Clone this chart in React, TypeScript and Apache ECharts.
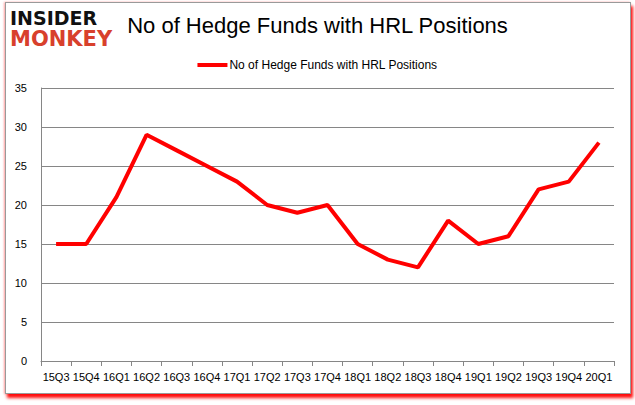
import { useEffect, useRef } from 'react';
import * as echarts from 'echarts';

const quarters = [
  '15Q3', '15Q4', '16Q1', '16Q2', '16Q3', '16Q4', '17Q1', '17Q2', '17Q3', '17Q4',
  '18Q1', '18Q2', '18Q3', '18Q4', '19Q1', '19Q2', '19Q3', '19Q4', '20Q1',
];
const hedgeFunds = [15, 15, 21, 29, 27, 25, 23, 20, 19, 20, 15, 13, 12, 18, 15, 16, 22, 23, 28];
const seriesName = 'No of Hedge Funds with HRL Positions';
const chartTitle = 'No of Hedge Funds with HRL Positions';

export default function App() {
  const chartRef = useRef<HTMLDivElement>(null);

  useEffect(() => {
    if (!chartRef.current) return;
    const chart = echarts.init(chartRef.current, null, { renderer: 'svg' });

    chart.setOption({
      animation: false,
      backgroundColor: 'transparent',
      title: {
        text: chartTitle,
        left: 'center',
        top: 9,
        textStyle: {
          fontFamily: 'Liberation Sans',
          fontSize: 22,
          fontWeight: 'normal',
          color: '#000',
        },
      },
      legend: {
        top: 54,
        left: 'center',
        icon: 'rect',
        itemWidth: 30,
        itemHeight: 4,
        itemGap: 2,
        textStyle: { fontFamily: 'Liberation Sans', fontSize: 12, color: '#000', padding: [0, 0, 0, -3] },
        data: [seriesName],
      },
      graphic: [
        {
          type: 'text',
          left: 10,
          top: 8,
          style: {
            text: 'INSIDER',
            font: 'bold 19px "DejaVu Sans"',
            fill: '#111',
          },
        },
        {
          type: 'text',
          left: 10,
          top: 28,
          style: {
            text: 'MONKEY',
            font: 'bold 21px "DejaVu Sans"',
            fill: '#d8402c',
          },
        },
      ],
      grid: { left: 41, right: 21, top: 88, bottom: 44 },
      xAxis: {
        type: 'category',
        data: quarters,
        boundaryGap: true,
        axisLine: { lineStyle: { color: '#868686', width: 1 } },
        axisTick: { show: true, length: 5, lineStyle: { color: '#868686' } },
        axisLabel: {
          interval: 0,
          margin: 10,
          fontFamily: 'Liberation Sans',
          fontSize: 11,
          color: '#000',
        },
      },
      yAxis: {
        type: 'value',
        min: 0,
        max: 35,
        interval: 5,
        axisLine: { show: true, lineStyle: { color: '#868686', width: 1 } },
        axisTick: { show: false },
        axisLabel: {
          margin: 14,
          fontFamily: 'Liberation Sans',
          fontSize: 11,
          color: '#000',
        },
        splitLine: { lineStyle: { color: '#868686', width: 1 } },
      },
      series: [
        {
          name: seriesName,
          type: 'line',
          data: hedgeFunds,
          showSymbol: false,
          symbol: 'none',
          lineStyle: { color: '#ff0000', width: 4 },
          itemStyle: { color: '#ff0000' },
        },
      ],
    });

    return () => {
      chart.dispose();
    };
  }, []);

  return (
    <div style={{ position: 'fixed', left: 0, top: 0, width: 635, height: 405, background: '#fff' }}>
      <div
        style={{
          position: 'absolute',
          left: 5,
          top: 2,
          width: 624,
          height: 390,
          border: '1px solid #9a9a9a',
          boxShadow: '2px 4px 3px rgba(255,0,0,0.95), -1px 0 2px rgba(255,0,0,0.35)',
          background: '#fff',
        }}
      />
      <div ref={chartRef} style={{ position: 'absolute', left: 0, top: 0, width: 635, height: 405 }} />
    </div>
  );
}
